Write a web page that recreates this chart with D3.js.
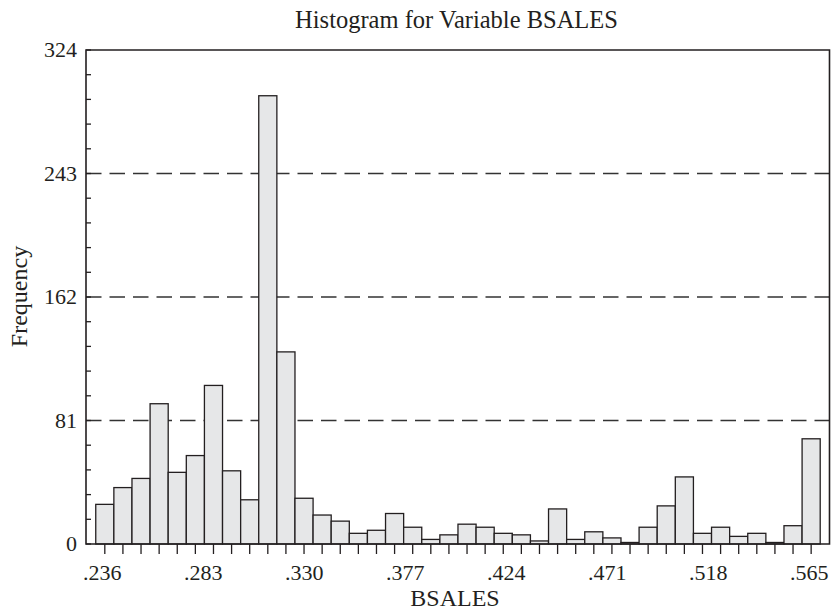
<!DOCTYPE html>
<html>
<head>
<meta charset="utf-8">
<script src="https://cdn.jsdelivr.net/npm/d3@7"></script>
<style>
  html, body { margin: 0; padding: 0; background: #fff; }
  svg { display: block; }
  text { font-family: "Liberation Serif", "Times New Roman", serif; fill: #231f20; }
</style>
</head>
<body>
<svg id="chart" width="832" height="611"></svg>
<script>
// ---- data ----
const title = "Histogram for Variable BSALES";
const xLabel = "BSALES";
const yLabel = "Frequency";
const counts = [26, 37, 43, 92, 47, 58, 104, 48, 29, 294,
                126, 30, 19, 15, 7, 9, 20, 11, 3, 6,
                13, 11, 7, 6, 2, 23, 3, 8, 4, 1,
                11, 25, 44, 7, 11, 5, 7, 1, 12, 69];
const binStart = 0.2330;
const binWidth = 0.008428;
const xTickValues = [0.236, 0.283, 0.330, 0.377, 0.424, 0.471, 0.518, 0.565];
const xTickLabels = [".236", ".283", ".330", ".377", ".424", ".471", ".518", ".565"];
const yTickValues = [0, 81, 162, 243, 324];
const yTickLabels = ["0", "81", "162", "243", "324"];
const gridValues = [81, 162, 243];

// ---- layout ----
const svg = d3.select("#chart");
const mLeft = 86, mRight = 829.5, mTop = 50, mBottom = 544;
const ink = "#231f20";

const x = d3.scaleLinear().domain([0.236, 0.565]).range([102.2, 809.2]);
const y = d3.scaleLinear().domain([0, 324]).range([mBottom, mTop]);

// gridlines
svg.append("g").selectAll("line").data(gridValues).join("line")
  .attr("x1", mLeft).attr("x2", mRight)
  .attr("y1", d => y(d)).attr("y2", d => y(d))
  .attr("stroke", "#333").attr("stroke-width", 1.4)
  .attr("stroke-dasharray", "15.5,8");

// bars
svg.append("g").selectAll("rect").data(counts).join("rect")
  .attr("x", (d, i) => x(binStart + i * binWidth))
  .attr("width", (d, i) => x(binStart + (i + 1) * binWidth) - x(binStart + i * binWidth))
  .attr("y", d => y(d))
  .attr("height", d => y(0) - y(d))
  .attr("fill", "#e6e7e8")
  .attr("stroke", ink).attr("stroke-width", 1.3);

// x minor ticks at bin centers
svg.append("g").selectAll("line").data(counts).join("line")
  .attr("x1", (d, i) => x(binStart + (i + 0.5) * binWidth))
  .attr("x2", (d, i) => x(binStart + (i + 0.5) * binWidth))
  .attr("y1", mBottom).attr("y2", mBottom + 10)
  .attr("stroke", ink).attr("stroke-width", 1.3);

// y minor ticks
const yMinor = d3.range(0, 324.01, 16.2);
svg.append("g").selectAll("line").data(yMinor).join("line")
  .attr("x1", mLeft).attr("x2", mLeft + 5)
  .attr("y1", d => y(d)).attr("y2", d => y(d))
  .attr("stroke", ink).attr("stroke-width", 1.3);

// frame
svg.append("path")
  .attr("d", `M${mLeft},${mTop}H${mRight}V${mBottom}H${mLeft}Z`)
  .attr("fill", "none").attr("stroke", ink).attr("stroke-width", 1.6);

// y tick labels
svg.append("g").selectAll("text").data(yTickValues).join("text")
  .attr("x", 77).attr("y", d => y(d))
  .attr("dy", "0.33em")
  .attr("text-anchor", "end")
  .attr("font-size", 22)
  .text((d, i) => yTickLabels[i]);

// x tick labels
svg.append("g").selectAll("text").data(xTickValues).join("text")
  .attr("x", d => x(d)).attr("y", 580)
  .attr("text-anchor", "middle")
  .attr("font-size", 22)
  .text((d, i) => xTickLabels[i]);

// title
svg.append("text").attr("x", 456.5).attr("y", 27.5)
  .attr("text-anchor", "middle").attr("font-size", 24.5)
  .text(title);

// x label
svg.append("text").attr("x", 455).attr("y", 606)
  .attr("text-anchor", "middle").attr("font-size", 24)
  .text(xLabel);

// y label
svg.append("text")
  .attr("transform", `translate(27,296.5) rotate(-90)`)
  .attr("text-anchor", "middle").attr("font-size", 24)
  .text(yLabel);
</script>
</body>
</html>
